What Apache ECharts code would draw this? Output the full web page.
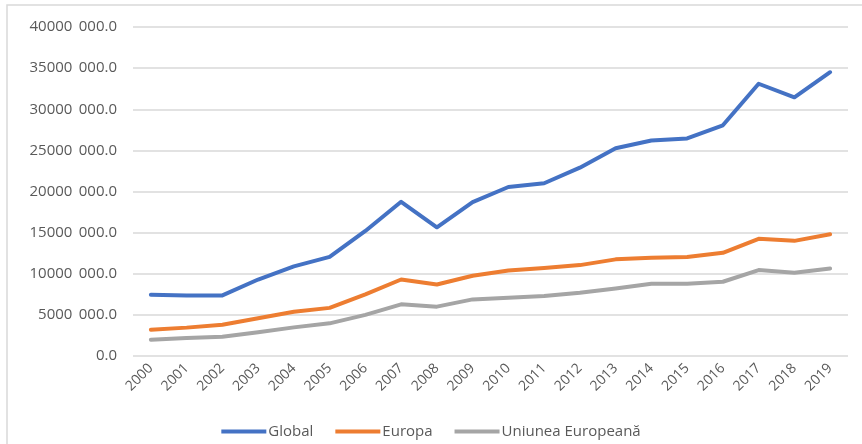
<!DOCTYPE html>
<html>
<head>
<meta charset="utf-8">
<script src="https://cdn.jsdelivr.net/npm/echarts@6/dist/echarts.min.js"></script>
<style>
  html, body { margin: 0; padding: 0; background: #fff; }
  #chart { width: 862px; height: 444px; }
</style>
</head>
<body>
<div id="chart"></div>
<script>
// Years on the category axis
const years = ['2000','2001','2002','2003','2004','2005','2006','2007','2008','2009',
               '2010','2011','2012','2013','2014','2015','2016','2017','2018','2019'];

// Series values
const globalValues = [7450000, 7350000, 7370000, 9300000, 10900000, 12050000, 15200000, 18750000, 15650000, 18700000,
                      20550000, 21000000, 22900000, 25250000, 26200000, 26450000, 28050000, 33100000, 31450000, 34500000];
const europaValues = [3200000, 3450000, 3800000, 4600000, 5380000, 5850000, 7500000, 9300000, 8700000, 9750000,
                      10400000, 10700000, 11050000, 11750000, 11950000, 12050000, 12550000, 14250000, 14000000, 14800000];
const ueValues = [1980000, 2200000, 2350000, 2900000, 3480000, 3970000, 5000000, 6280000, 6000000, 6880000,
                  7080000, 7290000, 7700000, 8220000, 8790000, 8790000, 9030000, 10450000, 10120000, 10650000];

const seriesNames = ['Global', 'Europa', 'Uniunea Europeană'];
const seriesColors = ['#4472C4', '#ED7D31', '#A5A5A5'];

// Value axis range
const yMin = 0, yMax = 40000000, yStep = 5000000;

// "40000 000.0" style: last three digits set apart by a wide space, one decimal
function fmt(v) {
  if (v === 0) return '0.0';
  const s = Math.round(v).toString();
  return s.slice(0, -3) + ' \u2009' + s.slice(-3) + '.0';
}

const textColor = '#595959';
const fontFamily = '"Open Sans", "Noto Sans", sans-serif';

const chart = echarts.init(document.getElementById('chart'), null, { renderer: 'canvas' });

const dataSets = [globalValues, europaValues, ueValues];

chart.setOption({
  animation: false,
  backgroundColor: '#ffffff',
  graphic: [{
    type: 'rect',
    shape: { x: 7, y: 5, width: 900, height: 500 },
    style: { fill: 'none', stroke: '#d9d9d9', lineWidth: 1.5 },
    silent: true
  }],
  grid: { left: 133, right: 14, top: 27, bottom: 88 },
  legend: {
    bottom: 0,
    left: 'center',
    icon: 'rect',
    itemWidth: 45,
    itemHeight: 4,
    itemGap: 22,
    textStyle: { color: textColor, fontSize: 15, fontFamily: fontFamily, padding: [0, 0, 0, -3] },
    data: seriesNames
  },
  xAxis: {
    type: 'category',
    data: years,
    boundaryGap: true,
    axisLine: { show: false },
    axisTick: { show: false },
    axisLabel: { color: textColor, fontSize: 14, fontFamily: fontFamily, rotate: 45, margin: 10, interval: 0 }
  },
  yAxis: {
    type: 'value',
    min: yMin,
    max: yMax,
    interval: yStep,
    axisLine: { show: false },
    axisTick: { show: false },
    splitLine: { lineStyle: { color: '#d9d9d9', width: 1.5 } },
    axisLabel: { color: textColor, fontSize: 15, fontFamily: fontFamily, margin: 16, formatter: fmt }
  },
  series: seriesNames.map((name, i) => ({
    name: name,
    type: 'line',
    data: dataSets[i],
    symbol: 'none',
    smooth: false,
    lineStyle: { width: 4, color: seriesColors[i], cap: 'round', join: 'round' },
    itemStyle: { color: seriesColors[i] },
    z: 3 - i
  }))
});
</script>
</body>
</html>
